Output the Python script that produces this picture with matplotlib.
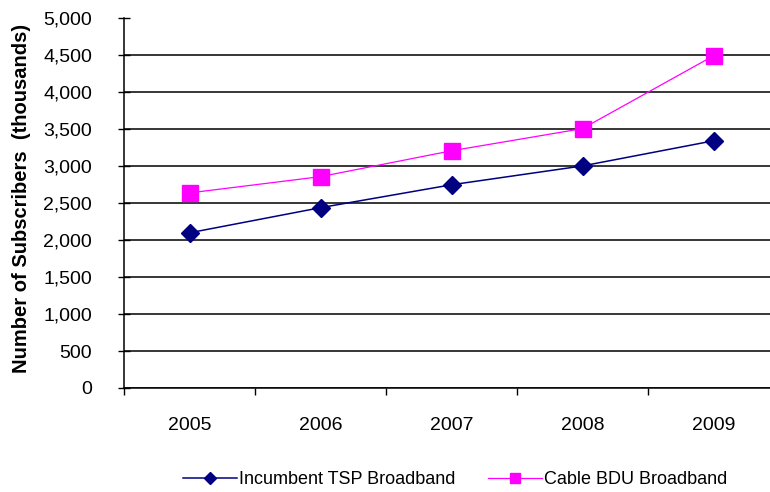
import numpy as np
import matplotlib.pyplot as plt
from matplotlib.ticker import FuncFormatter, FixedLocator

plt.rcParams['font.family'] = ['Liberation Sans', 'DejaVu Sans']

# Data
years = ['2005', '2006', '2007', '2008', '2009']
incumbent_tsp = [2100, 2440, 2750, 3005, 3345]
cable_bdu = [2640, 2860, 3210, 3510, 4495]

fig = plt.figure(figsize=(7.7, 4.92), dpi=100)
ax = fig.add_axes([124 / 770, 1 - 388 / 492, 655 / 770, (388 - 18.5) / 492])

x = np.arange(len(years))

ax.plot(x, incumbent_tsp, color='#000080', marker='D', markersize=9.5,
        linewidth=1.1, label='Incumbent TSP Broadband')
ax.plot(x, cable_bdu, color='#FF00FF', marker='s', markersize=11.5,
        linewidth=0.9, label='Cable BDU Broadband')

ax.set_xlim(-0.5, len(years) - 0.5)
ax.set_ylim(0, 5000)
ax.set_yticks(np.arange(0, 5001, 500))
ax.yaxis.set_major_formatter(FuncFormatter(lambda v, p: f"{int(v):,}"))
ax.yaxis.grid(True, color='black', linewidth=1.1)
ax.set_axisbelow(True)

ax.set_xticks(x)
ax.set_xticklabels(years)
ax.xaxis.set_minor_locator(FixedLocator(np.arange(-0.5, len(years), 1)))
ax.tick_params(axis='x', which='major', length=0, pad=21, labelsize=14)
ax.tick_params(axis='x', which='minor', length=5, width=1, direction='out')
ax.tick_params(axis='y', length=9, width=1, direction='inout', labelsize=14, pad=18.5)

for s in ['top', 'right']:
    ax.spines[s].set_visible(False)
ax.spines['left'].set_linewidth(1.1)
ax.spines['bottom'].set_linewidth(1.1)

fig.text(22 / 770, 1 - 198 / 492, 'Number of Subscribers  (thousands)',
         rotation=90, fontsize=14.5, fontweight='bold', ha='center', va='center')

fig.legend(loc='center', bbox_to_anchor=(455 / 770, 1 - 480 / 492), ncol=2,
           frameon=False, fontsize=13, handlelength=3.0, columnspacing=1.8,
           handletextpad=0.1, markerscale=0.6)

fig.savefig('out.png', dpi=100)
